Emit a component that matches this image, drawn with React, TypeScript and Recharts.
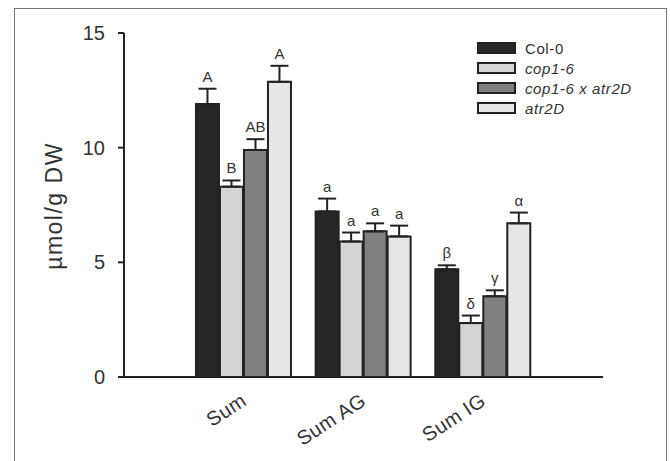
import { BarChart, Bar, XAxis, YAxis, ErrorBar, LabelList } from 'recharts'

const categories = ['Sum', 'Sum AG', 'Sum IG']
const genotypes = ['Col-0', 'cop1-6', 'cop1-6 x atr2D', 'atr2D']
const colors = ['#262626', '#d3d5d4', '#808080', '#e6e6e6']

// mean values per genotype, in category order
const col0 = [11.9, 7.22, 4.7]
const cop16 = [8.3, 5.91, 2.35]
const cross = [9.9, 6.35, 3.52]
const atr2d = [12.87, 6.13, 6.7]

// upper error (SE)
const col0Err = [0.67, 0.56, 0.17]
const cop16Err = [0.27, 0.39, 0.33]
const crossErr = [0.47, 0.35, 0.26]
const atr2dErr = [0.7, 0.47, 0.47]

// significance letters
const col0Sig = ['A', 'a', 'β']
const cop16Sig = ['B', 'a', 'δ']
const crossSig = ['AB', 'a', 'γ']
const atr2dSig = ['A', 'a', 'α']

const yTicks = [0, 5, 10, 15]

const seriesValues = [col0, cop16, cross, atr2d]
const seriesErr = [col0Err, cop16Err, crossErr, atr2dErr]
const seriesSig = [col0Sig, cop16Sig, crossSig, atr2dSig]

const chartData = categories.map((name, i) => {
  const row: any = { name }
  genotypes.forEach((g, s) => {
    row[`v${s}`] = seriesValues[s][i]
    row[`e${s}`] = [0, seriesErr[s][i]]
  })
  return row
})

const FONT = '"Liberation Sans", Arial, sans-serif'

const XTick = ({ x, y, payload }: any) => (
  <text
    x={x + 4}
    y={y + 19}
    transform={`rotate(-33, ${x + 4}, ${y + 19})`}
    textAnchor="end"
    fontSize={20}
    letterSpacing={0.5}
    fontFamily={FONT}
    fill="#333"
  >
    {payload.value}
  </text>
)

const makeSigLabel = (s: number) => (props: any) => {
  const { x, y, width, height, index } = props
  const value = seriesValues[s][index]
  const err = seriesErr[s][index]
  const top = y - (err * height) / value
  return (
    <text x={x + width / 2} y={top - 7} textAnchor="middle" fontSize={15} fontFamily={FONT} fill="#333">
      {seriesSig[s][index]}
    </text>
  )
}

const LegendBox = () => (
  <div style={{ position: 'absolute', left: 477, top: 38, fontFamily: FONT, fontSize: 15, color: '#333' }}>
    {genotypes.map((g, i) => (
      <div key={g} style={{ display: 'flex', alignItems: 'center', height: 20 }}>
        <div
          style={{
            width: 35,
            height: 8,
            background: colors[i],
            border: '2px solid #222',
            marginRight: 9,
          }}
        />
        <span style={{ fontStyle: i === 0 ? 'normal' : 'italic', letterSpacing: 0.6 }}>{g}</span>
      </div>
    ))}
  </div>
)

export default function App() {
  return (
    <div style={{ position: 'absolute', left: 0, top: 0, width: 670, height: 461, background: '#fff', overflow: 'hidden' }}>
      <div
        style={{
          position: 'absolute',
          left: 14,
          top: 8,
          width: 653,
          height: 470,
          border: '1.5px solid #777',
          boxSizing: 'border-box',
        }}
      />
      <div style={{ position: 'absolute', left: 0, top: 0 }}>
        <BarChart
          width={670}
          height={461}
          data={chartData}
          margin={{ top: 33, right: 67, left: 0, bottom: 24 }}
          barCategoryGap="10%"
          barGap={1}
        >
          <XAxis
            dataKey="name"
            height={60}
            padding={{ left: 60, right: 60 }}
            tickLine={false}
            tickSize={6}
            tickMargin={2}
            axisLine={{ stroke: '#222', strokeWidth: 2 }}
            tick={<XTick />}
            interval={0}
          />
          <YAxis
            width={124}
            domain={[0, 15]}
            ticks={yTicks}
            allowDataOverflow
            tickSize={6}
            tickMargin={13}
            axisLine={{ stroke: '#222', strokeWidth: 2 }}
            tickLine={{ stroke: '#222', strokeWidth: 2 }}
            tick={{ fontSize: 20, fill: '#333', fontFamily: FONT }}
            label={{
              content: () => (
                <text
                  x={62}
                  y={206}
                  transform="rotate(-90, 62, 206)"
                  textAnchor="middle"
                  fontSize={23}
                  letterSpacing={1.5}
                  fontFamily={FONT}
                  fill="#333"
                >
                  µmol/g DW
                </text>
              ),
            }}
          />
          {genotypes.map((g, s) => (
            <Bar
              key={g}
              dataKey={`v${s}`}
              name={g}
              fill={colors[s]}
              stroke="#222"
              strokeWidth={2}
              isAnimationActive={false}
            >
              <ErrorBar dataKey={`e${s}`} width={9} stroke="#222" strokeWidth={2} direction="y" isAnimationActive={false} />
              <LabelList content={makeSigLabel(s)} />
            </Bar>
          ))}
        </BarChart>
      </div>
      <LegendBox />
    </div>
  )
}
